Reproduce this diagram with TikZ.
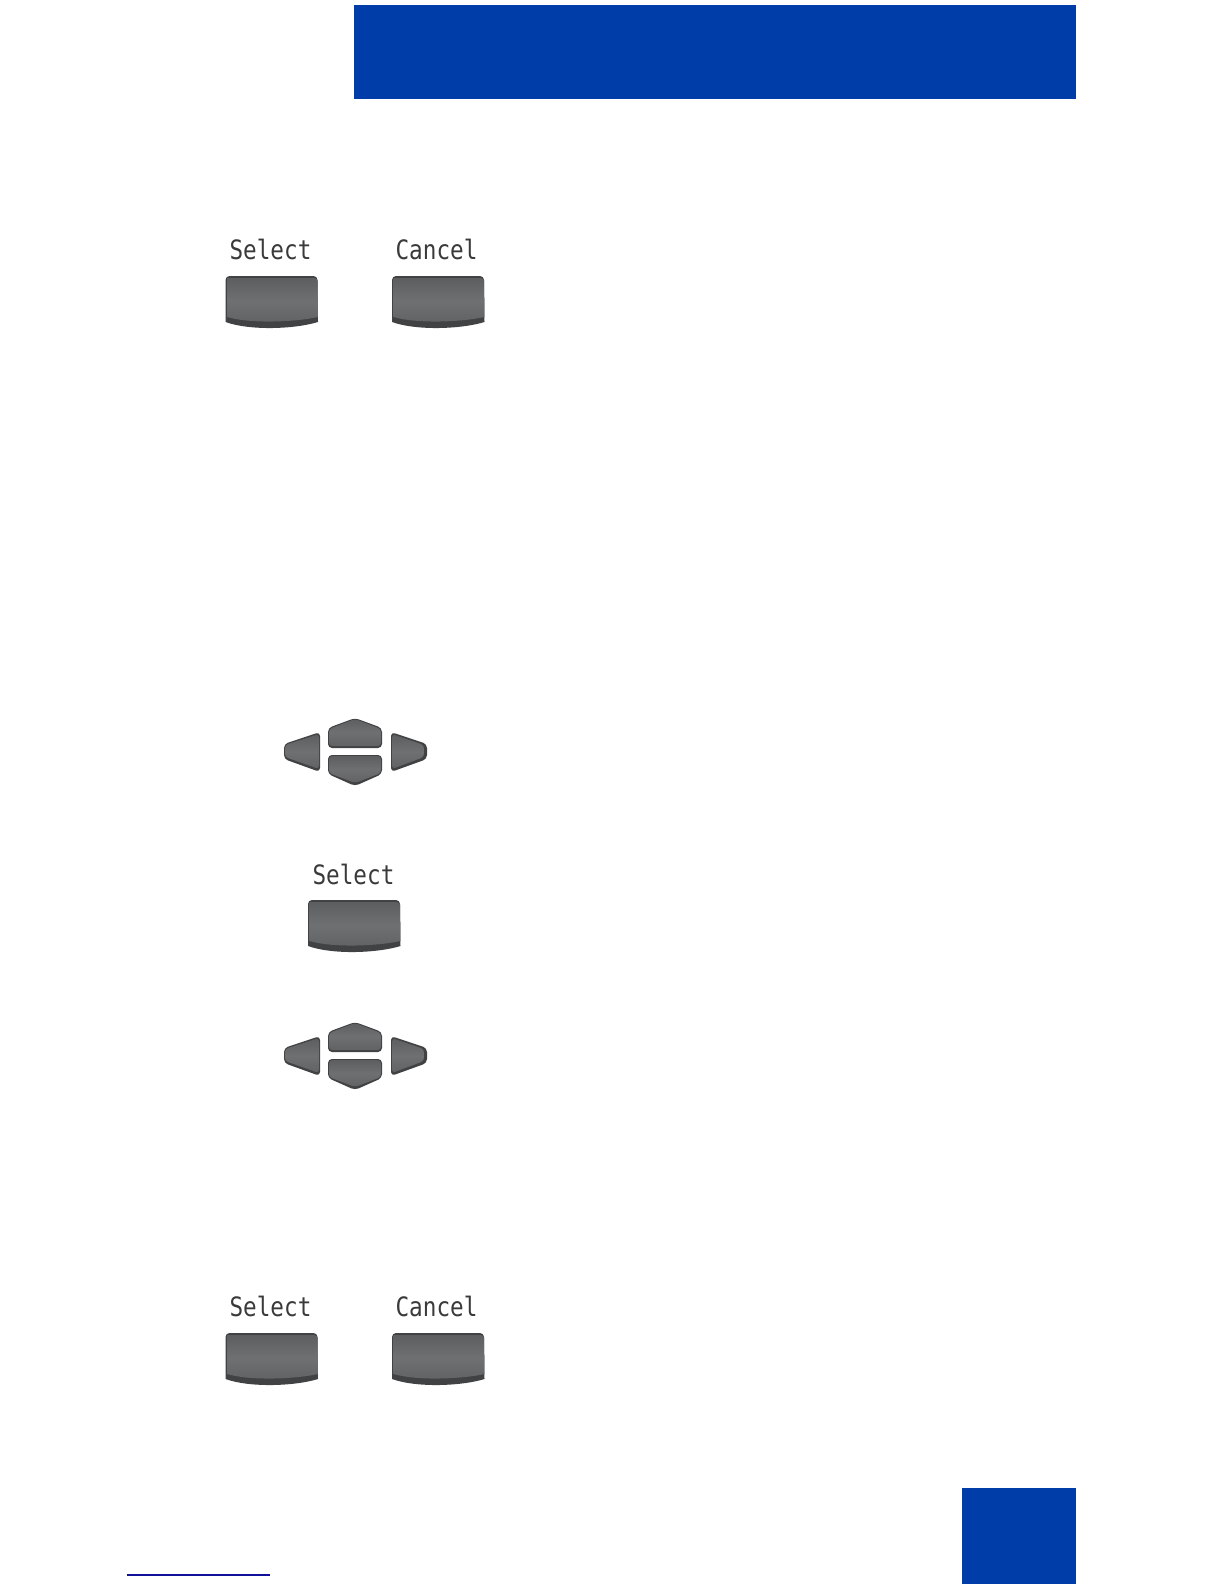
\documentclass[tikz,border=0pt]{standalone}
\usepackage{fontspec}
\setmonofont{DejaVu Sans Mono}
\definecolor{bandblue}{HTML}{003DA8}
\definecolor{linkblue}{HTML}{10109A}
\definecolor{keyedge}{HTML}{404244}
\definecolor{keytop}{HTML}{5C5E60}
\definecolor{keymid}{HTML}{6E7072}
\definecolor{keylow}{HTML}{606264}
\definecolor{lcdtext}{HTML}{3A3A3A}
\tikzset{
  band/.style = {fill=bandblue, draw=none},
  keybase/.style = {fill=keyedge, draw=none, rounded corners=2.4pt},
  keyface/.style = {top color=keytop, bottom color=keylow, middle color=keymid, draw=none, rounded corners=2pt},
  lcd/.style = {font=\ttfamily\fontsize{16}{16}\selectfont, text=lcdtext, inner sep=0pt, xscale=0.85, transform shape},
  softkey/.pic = {
    \path[keybase] (0,0) -- (92,0) [sharp corners] -- (92.5,46) .. controls (70,53) and (25,55) .. (0,46) [rounded corners=2.4pt] -- cycle;
    \path[keyface] (1.5,2) -- (92,2) [sharp corners] -- (92.5,41) .. controls (70,46) and (25,48) .. (1.5,41) -- cycle;
  },
  navkeys/.pic = {
    \path[keybase] (-27,-22) -- (0,-32) -- (27,-22) -- (27,-2) -- (-27,-2) -- cycle;
    \path[keyface] (-26,-21) -- (0,-31) -- (26,-21) -- (26,-4) -- (-26,-4) -- cycle;
    \path[keybase] (-27,5) -- (27,5) -- (27,24) -- (0,36) -- (-27,24) -- cycle;
    \path[keyface] (-26,6) -- (26,6) -- (26,23) -- (0,33) -- (-26,23) -- cycle;
    \path[keybase] (-35,-18) -- (-35,22) -- (-71,9) -- (-71,-6) -- cycle;
    \path[keyface] (-36,-16) -- (-36,19) -- (-70,7) -- (-70,-5) -- cycle;
    \path[keybase] (36,-18) -- (36,22) -- (72,9) -- (72,-6) -- cycle;
    \path[keyface] (37,-16) -- (37,19) -- (69,7) -- (69,-5) -- cycle;
  },
}
\begin{document}
\begin{tikzpicture}[x=0.6pt, y=-0.6pt]
\useasboundingbox (0,0) rectangle (1224,1584);

%% ── Blue bands ──────────────────────────────────────────────────────────────
\fill[band] (354,5) rectangle (1076,99);
\fill[band] (962,1488) rectangle (1076,1584);

%% ── Link rule ───────────────────────────────────────────────────────────────
\draw[linkblue, line width=0.9pt] (127,1575) -- (270,1575);

%% ── Soft keys, top pair ─────────────────────────────────────────────────────
\node[lcd] (select1) at (270.5,249) {Select};
\node[lcd] (cancel1) at (436.5,249) {Cancel};
\pic at (225.5,276) {softkey};
\pic at (392,276) {softkey};

%% ── Navigation keys and single soft key ─────────────────────────────────────
\pic at (355,750) {navkeys};
\node[lcd] (select2) at (353.5,874) {Select};
\pic at (308,900) {softkey};
\pic at (355,1054) {navkeys};

%% ── Soft keys, bottom pair ──────────────────────────────────────────────────
\node[lcd] (select3) at (270.5,1306.5) {Select};
\node[lcd] (cancel3) at (436.5,1306.5) {Cancel};
\pic at (225.5,1333) {softkey};
\pic at (392,1333) {softkey};

\end{tikzpicture}
\end{document}
